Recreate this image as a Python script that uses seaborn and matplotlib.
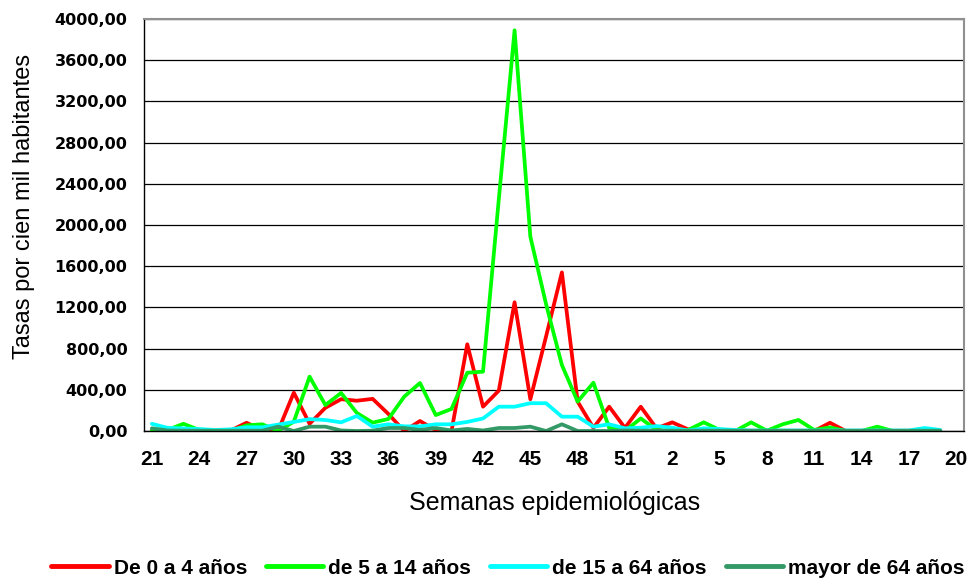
import numpy as np
import pandas as pd
import seaborn as sns
import matplotlib.pyplot as plt
from matplotlib.ticker import FixedLocator, FuncFormatter

# epidemiological weeks 21..52 then 1..20
weeks = list(range(21, 53)) + list(range(1, 21))

edad_0_4 = [5, 0, 0, 0, 0, 5, 80, 10, 0, 372, 70, 225, 309, 294, 312, 165, 0, 97, 8, 0,
            842, 236, 392, 1250, 308, 920, 1540, 285, 30, 236, 30, 236,
            26, 84, 16, 0, 0, 0, 0, 0, 0, 0, 0, 80, 0, 0, 0, 0, 0, 0, 0, np.nan]
edad_5_14 = [5, 10, 70, 10, 0, 0, 55, 65, 0, 90, 528, 252, 369, 175, 81, 117, 333, 466, 155, 214,
             566, 576, 2250, 3890, 1887, 1230, 641, 285, 469, 30, 0, 122,
             10, 0, 10, 84, 10, 0, 84, 3, 65, 107, 10, 35, 0, 0, 42, 0, 0, 0, 0, np.nan]
edad_15_64 = [70, 30, 25, 19, 10, 16, 36, 36, 62, 88, 115, 107, 84, 146, 42, 65, 45, 45, 65, 65,
              88, 122, 236, 236, 270, 270, 139, 139, 42, 65, 26, 32,
              48, 32, 5, 26, 19, 10, 5, 5, 5, 5, 5, 5, 5, 5, 5, 5, 5, 29, 10, np.nan]
edad_64_mas = [26, 5, 3, 3, 3, 3, 3, 3, 42, 0, 42, 42, 5, 0, 3, 29, 29, 10, 29, 5,
               20, 5, 29, 29, 42, 0, 65, 0, 0, 0, 5, 3,
               3, 3, 3, 3, 3, 3, 3, 3, 3, 3, 3, 3, 3, 3, 3, 3, 3, 3, 3, np.nan]

series_names = ["De 0 a 4 años", "de 5 a 14 años", "de 15 a 64 años", "mayor de 64 años"]
colors = ["#FF0000", "#00FF00", "#00FFFF", "#339966"]

pos = np.arange(len(weeks))
df = pd.concat([
    pd.DataFrame({"pos": pos, "tasa": vals, "grupo": name})
    for name, vals in zip(series_names, [edad_0_4, edad_5_14, edad_15_64, edad_64_mas])
], ignore_index=True)

sns.set_style("white")
plt.rcParams['font.family'] = ['Liberation Sans', 'DejaVu Sans']
plt.rcParams.update({"text.color": "black", "axes.labelcolor": "black",
                     "xtick.color": "black", "ytick.color": "black"})

fig = plt.figure(figsize=(9.78, 5.84), dpi=100)
ax = fig.add_axes([144/978, 1 - 431/584, 820/978, 412/584])

sns.lineplot(data=df, x="pos", y="tasa", hue="grupo", hue_order=series_names,
             palette=dict(zip(series_names, colors)), linewidth=2.7, sort=False,
             ax=ax, legend=True)

ax.set_xlim(-0.5, len(weeks) - 0.5)
ax.set_ylim(0, 4000)

# y axis
ax.set_yticks(np.arange(0, 4001, 400))
ax.yaxis.set_major_formatter(FuncFormatter(lambda v, p: f"{v:.2f}".replace(".", ",")))
ax.tick_params(axis="y", direction="out", length=4, width=1, color="black", pad=8)
for lab in ax.get_yticklabels():
    lab.set_fontfamily("DejaVu Sans")
    lab.set_fontweight("bold")
    lab.set_fontsize(11.5)
ax.yaxis.grid(True, color="black", linewidth=0.9)
ax.xaxis.grid(False)

# x axis: labels every 3 weeks, tick marks between categories
ax.xaxis.set_major_locator(FixedLocator(pos[::3]))
ax.set_xticklabels([str(w) for w in weeks[::3]], fontsize=15, fontweight="bold")
ax.xaxis.set_minor_locator(FixedLocator(np.arange(-0.5, len(weeks), 1)))
ax.tick_params(axis="x", which="major", length=0, pad=14)
ax.tick_params(axis="x", which="minor", direction="out", length=4, width=1, color="black")

for side in ["left", "bottom"]:
    ax.spines[side].set_color("black")
    ax.spines[side].set_linewidth(1)
for side in ["top", "right"]:
    ax.spines[side].set_color("#909090")
    ax.spines[side].set_linewidth(1.5)

ax.set_ylabel("Tasas por cien mil habitantes", fontsize=17)
ax.yaxis.label.set_va("center")
ax.yaxis.set_label_coords(-0.146, 0.544)
ax.set_xlabel("Semanas epidemiológicas", fontsize=18)
ax.xaxis.label.set_va("center")
ax.xaxis.set_label_coords(0.501, -0.175)

handles, labels = ax.get_legend_handles_labels()
ax.get_legend().remove()
for h in handles:
    h.set_linewidth(3.5)
fig.legend(handles, labels, loc="center", bbox_to_anchor=(508/978, 1 - 568/584), ncol=4,
           frameon=False, prop={"weight": "bold", "size": 15}, handlelength=2.75,
           handletextpad=0.25, columnspacing=0.9)

fig.savefig("out.png", dpi=100)
